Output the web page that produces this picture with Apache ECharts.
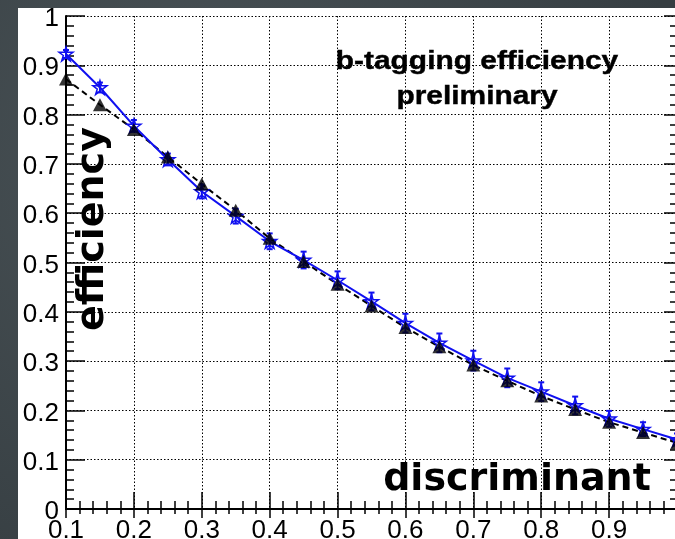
<!DOCTYPE html>
<html>
<head>
<meta charset="utf-8">
<script src="https://cdn.jsdelivr.net/npm/echarts@6/dist/echarts.min.js"></script>
<style>
  html, body { margin: 0; padding: 0; background: #3e464a; }
  #chart { width: 675px; height: 539px; }
</style>
</head>
<body>
<div id="chart"></div>
<script>
// discriminant cut values
const cuts = [0.10, 0.15, 0.20, 0.25, 0.30, 0.35, 0.40, 0.45, 0.50, 0.55,
              0.60, 0.65, 0.70, 0.75, 0.80, 0.85, 0.90, 0.95, 1.00];
// measured efficiency (blue stars) and its uncertainty
const effBlue = [0.923, 0.855, 0.777, 0.709, 0.644, 0.594, 0.543, 0.505, 0.464, 0.421,
                 0.377, 0.337, 0.301, 0.266, 0.238, 0.210, 0.183, 0.162, 0.141];
const errBlue = [0.008, 0.010, 0.012, 0.012, 0.014, 0.015, 0.016, 0.017, 0.018, 0.018,
                 0.019, 0.019, 0.020, 0.019, 0.019, 0.018, 0.016, 0.014, 0.012];
// reference efficiency (black triangles)
const effBlack = [0.872, 0.820, 0.770, 0.714, 0.659, 0.606, 0.549, 0.502, 0.456, 0.412,
                  0.368, 0.329, 0.292, 0.260, 0.229, 0.202, 0.176, 0.155, 0.134];
const xTicks = [0.1, 0.2, 0.3, 0.4, 0.5, 0.6, 0.7, 0.8, 0.9, 1.0];
const yTicks = [0, 0.1, 0.2, 0.3, 0.4, 0.5, 0.6, 0.7, 0.8, 0.9, 1.0];

const blue = '#1010f0';
const starPath = 'path://M50,2 L61,36 L97,36 L68,57 L79,92 L50,71 L21,92 L32,57 L3,36 L39,36 Z';

const chart = echarts.init(document.getElementById('chart'), null, { renderer: 'canvas' });

const labelFont = { fontFamily: 'Liberation Sans, Arial, sans-serif', fontSize: 26, color: '#000' };

function fmtY(v) {
  if (Math.abs(v) < 1e-9) return '0';
  if (Math.abs(v - 1) < 1e-9) return '1';
  return v.toFixed(1);
}
function fmtX(v) {
  if (Math.abs(v - 1) < 1e-9) return '';
  return v.toFixed(1);
}

const option = {
  backgroundColor: {
    type: 'radial', x: 0.3, y: 0.3, r: 0.9,
    colorStops: [{ offset: 0, color: '#4a5357' }, { offset: 1, color: '#363e42' }]
  },
  animation: false,
  graphic: [
    { type: 'rect', z: -10, shape: { x: 18, y: 8, width: 660, height: 540 }, style: { fill: '#ffffff' } },
    { type: 'text', z: 100, x: 477, y: 62, scaleX: 1.15,
      style: { text: 'b-tagging efficiency', font: 'bold 26px "Liberation Sans", Arial, sans-serif',
               fill: '#000', stroke: '#000', lineWidth: 0.4, align: 'center', verticalAlign: 'middle' } },
    { type: 'text', z: 100, x: 477, y: 97, scaleX: 1.15,
      style: { text: 'preliminary', font: 'bold 26px "Liberation Sans", Arial, sans-serif',
               fill: '#000', stroke: '#000', lineWidth: 0.4, align: 'center', verticalAlign: 'middle' } },
    { type: 'text', z: 100, x: 93, y: 229, rotation: Math.PI / 2,
      style: { text: 'efficiency', font: 'bold 38px "DejaVu Sans", sans-serif',
               fill: '#000', align: 'center', verticalAlign: 'middle',
               shadowColor: 'rgba(0,0,0,0.35)', shadowBlur: 2, shadowOffsetX: 3, shadowOffsetY: 3 } },
    { type: 'text', z: 100, x: 517, y: 480,
      style: { text: 'discriminant', font: 'bold 38px "DejaVu Sans", sans-serif',
               fill: '#000', align: 'center', verticalAlign: 'middle',
               shadowColor: 'rgba(0,0,0,0.35)', shadowBlur: 2, shadowOffsetX: 3, shadowOffsetY: 3 } }
  ],
  grid: { left: 66, right: -2, top: 16, bottom: 30, containLabel: false, outerBoundsMode: 'none' },
  xAxis: [
    {
      type: 'value', min: 0.1, max: 1.0, interval: 0.1, position: 'bottom',
      axisLine: { show: true, lineStyle: { color: '#000', width: 2 } },
      axisTick: { show: true, inside: true, length: 17, lineStyle: { color: '#000', width: 1.5 } },
      minorTick: { show: true, splitNumber: 5, length: 8, lineStyle: { color: '#000', width: 1.5 } },
      axisLabel: { ...labelFont, margin: 9, formatter: fmtX, showMinLabel: true, showMaxLabel: true },
      splitLine: { show: true, lineStyle: { color: '#000', width: 1, type: [1.5, 2] } }
    },
    {
      type: 'value', min: 0.1, max: 1.0, interval: 0.1, position: 'top',
      axisLine: { show: true, lineStyle: { color: '#000', width: 2 } },
      axisTick: { show: true, inside: true, length: 9, lineStyle: { color: '#000', width: 1.5 } },
      minorTick: { show: true, splitNumber: 5, length: 5, lineStyle: { color: '#000', width: 1.5 } },
      axisLabel: { show: false },
      splitLine: { show: false }
    }
  ],
  yAxis: [
    {
      type: 'value', min: 0, max: 1, interval: 0.1, position: 'left',
      axisLine: { show: true, lineStyle: { color: '#000', width: 2 } },
      axisTick: { show: true, inside: true, length: 19, lineStyle: { color: '#000', width: 1.5 } },
      minorTick: { show: true, splitNumber: 5, length: 8, lineStyle: { color: '#000', width: 1.5 } },
      axisLabel: { ...labelFont, margin: 7, formatter: fmtY, verticalAlign: 'top', lineHeight: 6,
                   showMinLabel: true, showMaxLabel: true },
      splitLine: { show: true, lineStyle: { color: '#000', width: 1, type: [1.5, 2] } }
    },
    {
      type: 'value', min: 0, max: 1, interval: 0.1, position: 'right',
      axisLine: { show: true, lineStyle: { color: '#000', width: 2 } },
      axisTick: { show: true, inside: true, length: 13, lineStyle: { color: '#000', width: 1.5 } },
      minorTick: { show: true, splitNumber: 5, length: 7, lineStyle: { color: '#000', width: 1.5 } },
      axisLabel: { show: false },
      splitLine: { show: false }
    }
  ],
  series: [
    {
      name: 'reference', type: 'line', z: 2,
      data: cuts.map((c, i) => [c, effBlack[i]]),
      showSymbol: false, symbol: 'none',
      lineStyle: { color: '#000', width: 2, type: [6, 4] }
    },
    {
      name: 'measured', type: 'line', z: 3,
      data: cuts.map((c, i) => [c, effBlue[i]]),
      symbol: starPath, symbolSize: 14, showSymbol: true,
      itemStyle: { color: 'rgba(255,255,255,0)', borderColor: blue, borderWidth: 1.5 },
      lineStyle: { color: blue, width: 2 }
    },
    {
      name: 'measured errors', type: 'custom', z: 3,
      data: cuts.map((c, i) => [c, effBlue[i] - errBlue[i], effBlue[i] + errBlue[i]]),
      renderItem: function (params, api) {
        const lo = api.coord([api.value(0), api.value(1)]);
        const hi = api.coord([api.value(0), api.value(2)]);
        const cap = 3;
        const st = { stroke: blue, lineWidth: 2 };
        return {
          type: 'group',
          children: [
            { type: 'line', shape: { x1: lo[0], y1: lo[1], x2: hi[0], y2: hi[1] }, style: st },
            { type: 'line', shape: { x1: lo[0] - cap, y1: lo[1], x2: lo[0] + cap, y2: lo[1] }, style: st },
            { type: 'line', shape: { x1: hi[0] - cap, y1: hi[1], x2: hi[0] + cap, y2: hi[1] }, style: st }
          ]
        };
      }
    },
    {
      name: 'reference points', type: 'scatter', z: 4,
      data: cuts.map((c, i) => [c, effBlack[i]]),
      symbol: 'triangle', symbolSize: [14, 13],
      itemStyle: { color: '#000' }
    }
  ]
};

chart.setOption(option);
</script>
</body>
</html>
